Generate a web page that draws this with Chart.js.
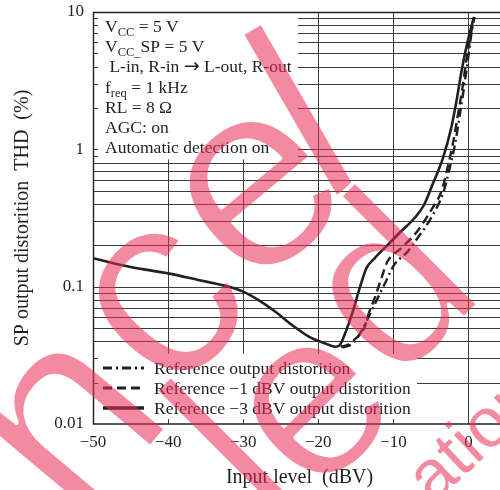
<!DOCTYPE html>
<html>
<head>
<meta charset="utf-8">
<script src="https://cdn.jsdelivr.net/npm/chart.js@4.4.0/dist/chart.umd.min.js"></script>
<style>
  html, body { margin: 0; padding: 0; background: #fff; }
  #wrap { width: 500px; height: 490px; }
</style>
</head>
<body>
<div id="wrap"><canvas id="thd" width="500" height="490"></canvas></div>
<script>
// axis ticks
const xTicks = [-50, -40, -30, -20, -10, 0];
const xTickLabels = ['\u221250', '\u221240', '\u221230', '\u221220', '\u221210', '0'];
const yTicks = [0.01, 0.1, 1, 10];
const yTickLabels = ['0.01', '0.1', '1', '10'];

// Reference output distorition (dash-dot)
const refX = [-16.8, -16, -15.2, -14.3, -13.4, -12.1, -11, -9.9, -8.1, -6.8, -5, -3.3, -2.5, -1.8, -1.15, -0.6, -0.1, 0.45, 0.8];
const refY = [0.0362, 0.037, 0.0397, 0.047, 0.0587, 0.0822, 0.109, 0.144, 0.18, 0.225, 0.315, 0.494, 0.73, 1.08, 1.79, 2.8, 4.39, 7.27, 9.2];

// Reference -1 dBV (dashed)
const ref1X = [-17, -16.1, -15, -13.9, -13.2, -12.5, -11.6, -10.8, -9, -7.2, -5.9, -4.8, -3.6, -2.8, -2.1, -1.4, -0.8, -0.3, 0.4, 0.75];
const ref1Y = [0.0365, 0.0377, 0.042, 0.0497, 0.0657, 0.0822, 0.115, 0.152, 0.19, 0.238, 0.298, 0.373, 0.494, 0.73, 1.08, 1.79, 2.8, 4.39, 7.27, 9.2];

// Reference -3 dBV (solid)
const ref3X = [-50, -45, -40, -36, -32, -30, -28, -25.7, -23.5, -21.2, -19, -17.7, -17.2, -16.5, -15.4, -14.5, -13.6, -12.5, -10.8, -9, -7.2, -5.9, -4.8, -3.4, -2.3, -1.6, -1, -0.3, 0.7];
const ref3Y = [0.161, 0.139, 0.125, 0.112, 0.1, 0.092, 0.08, 0.0656, 0.0526, 0.0431, 0.0385, 0.0365, 0.0372, 0.0446, 0.066, 0.097, 0.136, 0.161, 0.2, 0.252, 0.315, 0.395, 0.552, 0.864, 1.43, 2.24, 3.51, 5.49, 9.1];

const seriesNames = [
  'Reference output distorition',
  'Reference \u22121 dBV output distorition',
  'Reference \u22123 dBV output distorition'
];

// condition box text: [text, 0 normal / 1 subscript / 2 symbol]
const conditions = [
  [['V', 0], ['CC', 1], [' = 5 V', 0]],
  [['V', 0], ['CC_', 1], ['SP = 5 V', 0]],
  [[' L-in, R-in ', 0], ['\u2192', 2], [' L-out, R-out', 0]],
  [['f', 0], ['req', 1], [' = 1 kHz', 0]],
  [['RL = 8 \u03a9', 0]],
  [['AGC: on', 0]],
  [['Automatic detection on', 0]]
];

const ink = '#231f20';
const gridInk = '#3c3c3c';
const serif = '"Liberation Serif", "Times New Roman", serif';
const textFonts = ['17.5px ' + serif, '12.5px ' + serif, '19px "DejaVu Sans", sans-serif'];

// areas kept free of grid (data units)
const boxEdgeX = -22.7, boxEdgeY = 0.845;
const legEdgeX = -6.85, legEdgeY = 0.0324;

function toPoints(xs, ys) {
  return xs.map((x, i) => ({ x: x, y: ys[i] }));
}

function minorValues() {
  const out = [];
  [0.01, 0.1, 1].forEach(d => {
    for (let m = 1; m <= 9; m++) out.push(+(d * m).toPrecision(3));
  });
  return out;
}

const gridPlugin = {
  id: 'gridPlugin',
  beforeDatasetsDraw(chart) {
    const { ctx, chartArea: a, scales: { x, y } } = chart;
    const boxR = x.getPixelForValue(boxEdgeX);
    const boxB = y.getPixelForValue(boxEdgeY);
    const legR = x.getPixelForValue(legEdgeX);
    const legT = y.getPixelForValue(legEdgeY);
    ctx.save();
    ctx.strokeStyle = gridInk;
    ctx.lineWidth = 1;
    ctx.beginPath();
    minorValues().forEach(v => {
      if (v <= 0.01) return;
      const py = Math.round(y.getPixelForValue(v)) + 0.5;
      let x0 = a.left;
      if (v >= boxEdgeY) x0 = boxR;
      else if (v <= legEdgeY) x0 = legR;
      ctx.moveTo(x0, py); ctx.lineTo(a.right, py);
      if (x0 > a.left) { ctx.moveTo(a.left, py); ctx.lineTo(a.left + 5, py); }
    });
    xTicks.forEach(t => {
      if (t <= -50) return;
      const px = Math.round(x.getPixelForValue(t)) + 0.5;
      const y0 = t < boxEdgeX ? boxB : a.top;
      const y1 = t < legEdgeX ? legT : a.bottom;
      ctx.moveTo(px, y0); ctx.lineTo(px, y1);
      if (y1 < a.bottom) { ctx.moveTo(px, a.bottom); ctx.lineTo(px, a.bottom - 5); }
    });
    ctx.stroke();
    // frame
    ctx.strokeStyle = ink;
    ctx.lineWidth = 1.4;
    ctx.beginPath();
    ctx.moveTo(a.right, a.top + 0.5); ctx.lineTo(a.left + 0.5, a.top + 0.5);
    ctx.lineTo(a.left + 0.5, a.bottom); ctx.lineTo(a.right, a.bottom);
    ctx.stroke();
    ctx.restore();
  },
  afterDatasetsDraw(chart) {
    const { ctx, chartArea: a, scales: { x, y } } = chart;
    ctx.save();
    ctx.fillStyle = ink;

    // condition text
    ctx.textBaseline = 'alphabetic';
    ctx.textAlign = 'left';
    conditions.forEach((line, i) => {
      let cx = a.left + 12;
      const by = 32 + i * 20.2;
      line.forEach(([txt, kind]) => {
        ctx.font = textFonts[kind];
        ctx.fillText(txt, cx, kind === 1 ? by + 4 : (kind === 2 ? by - 0.5 : by));
        cx += ctx.measureText(txt).width;
      });
    });

    // legend
    chart.data.datasets.forEach((ds, i) => {
      const ly = 368 + i * 20;
      ctx.strokeStyle = ink;
      ctx.lineWidth = i === 2 ? 3.5 : 3;
      ctx.setLineDash(ds.borderDash || []);
      ctx.beginPath();
      ctx.moveTo(a.left + 10, ly); ctx.lineTo(a.left + 51, ly);
      ctx.stroke();
      ctx.setLineDash([]);
      ctx.font = textFonts[0];
      ctx.textBaseline = 'middle';
      ctx.fillText(ds.label, a.left + 61, ly + 1);
    });

    // tick labels
    ctx.font = '17px ' + serif;
    ctx.textAlign = 'right';
    ctx.textBaseline = 'middle';
    yTicks.forEach((v, i) => ctx.fillText(yTickLabels[i], a.left - 9, y.getPixelForValue(v)));
    ctx.textAlign = 'center';
    xTicks.forEach((v, i) => ctx.fillText(xTickLabels[i], x.getPixelForValue(v), a.bottom + 19));

    // axis titles
    ctx.font = '20px ' + serif;
    ctx.fillText('Input level  (dBV)', x.getPixelForValue(-22.5), a.bottom + 54);
    ctx.save();
    ctx.translate(23, (a.top + a.bottom) / 2);
    ctx.rotate(-Math.PI / 2);
    ctx.fillText('SP output distorition  THD  (%)', 0, 0);
    ctx.restore();
    ctx.restore();
  },
  afterDraw(chart) {
    // pink stamp over the whole page, drawn letter by letter on a side canvas
    const off = document.createElement('canvas');
    off.width = chart.width;
    off.height = chart.height;
    const oc = off.getContext('2d');
    const glyph = (ch, cx, cy, deg, size, thin) => {
      oc.save();
      oc.translate(cx, cy);
      oc.rotate(-deg * Math.PI / 180);
      oc.font = size + 'px "Liberation Sans", Arial, sans-serif';
      oc.textBaseline = 'alphabetic';
      oc.textAlign = 'center';
      oc.globalCompositeOperation = 'source-over';
      oc.fillStyle = 'rgb(233, 42, 82)';
      oc.fillText(ch, 0, 0.26 * size);
      oc.globalCompositeOperation = 'destination-out';
      oc.lineWidth = thin;
      oc.lineJoin = 'round';
      oc.strokeStyle = '#000';
      oc.strokeText(ch, 0, 0.26 * size);
      oc.restore();
    };
    glyph('a', -30, 540, 50, 270, 4);
    glyph('n', 75, 428, 50, 270, 4);
    glyph('c', 166, 306, 48, 270, 4);
    glyph('e', 260, 194, 40, 270, 4);
    glyph('l', 312, 133, 30, 260, 4);
    glyph('l', 242, 462, 45, 240, 4);
    glyph('e', 317, 411, 45, 240, 4);
    glyph('d', 398, 296, 45, 240, 4);
    oc.save();
    oc.translate(433, 505);
    oc.rotate(-43 * Math.PI / 180);
    oc.font = '70px "Liberation Sans", Arial, sans-serif';
    oc.fillStyle = 'rgb(233, 42, 82)';
    oc.fillText('ation', 0, 0);
    oc.restore();

    const ctx = chart.ctx;
    ctx.save();
    ctx.globalAlpha = 0.55;
    ctx.drawImage(off, 0, 0);
    ctx.restore();
  }
};

const ctx = document.getElementById('thd').getContext('2d');
new Chart(ctx, {
  type: 'line',
  data: {
    datasets: [
      {
        label: seriesNames[0],
        data: toPoints(refX, refY),
        borderColor: ink,
        borderWidth: 2.4,
        borderDash: [9, 4, 2, 4]
      },
      {
        label: seriesNames[1],
        data: toPoints(ref1X, ref1Y),
        borderColor: ink,
        borderWidth: 2.4,
        borderDash: [9, 5]
      },
      {
        label: seriesNames[2],
        data: toPoints(ref3X, ref3Y),
        borderColor: ink,
        borderWidth: 2.6
      }
    ]
  },
  options: {
    responsive: false,
    animation: false,
    events: [],
    devicePixelRatio: 1,
    layout: { padding: { left: 93, top: 12, right: 0, bottom: 66 } },
    elements: {
      point: { radius: 0 },
      line: { cubicInterpolationMode: 'monotone', fill: false }
    },
    scales: {
      x: { type: 'linear', min: -50, max: 4.2, display: false },
      y: { type: 'logarithmic', min: 0.01, max: 10, display: false }
    },
    plugins: {
      legend: { display: false },
      tooltip: { enabled: false }
    }
  },
  plugins: [gridPlugin]
});
</script>
</body>
</html>
